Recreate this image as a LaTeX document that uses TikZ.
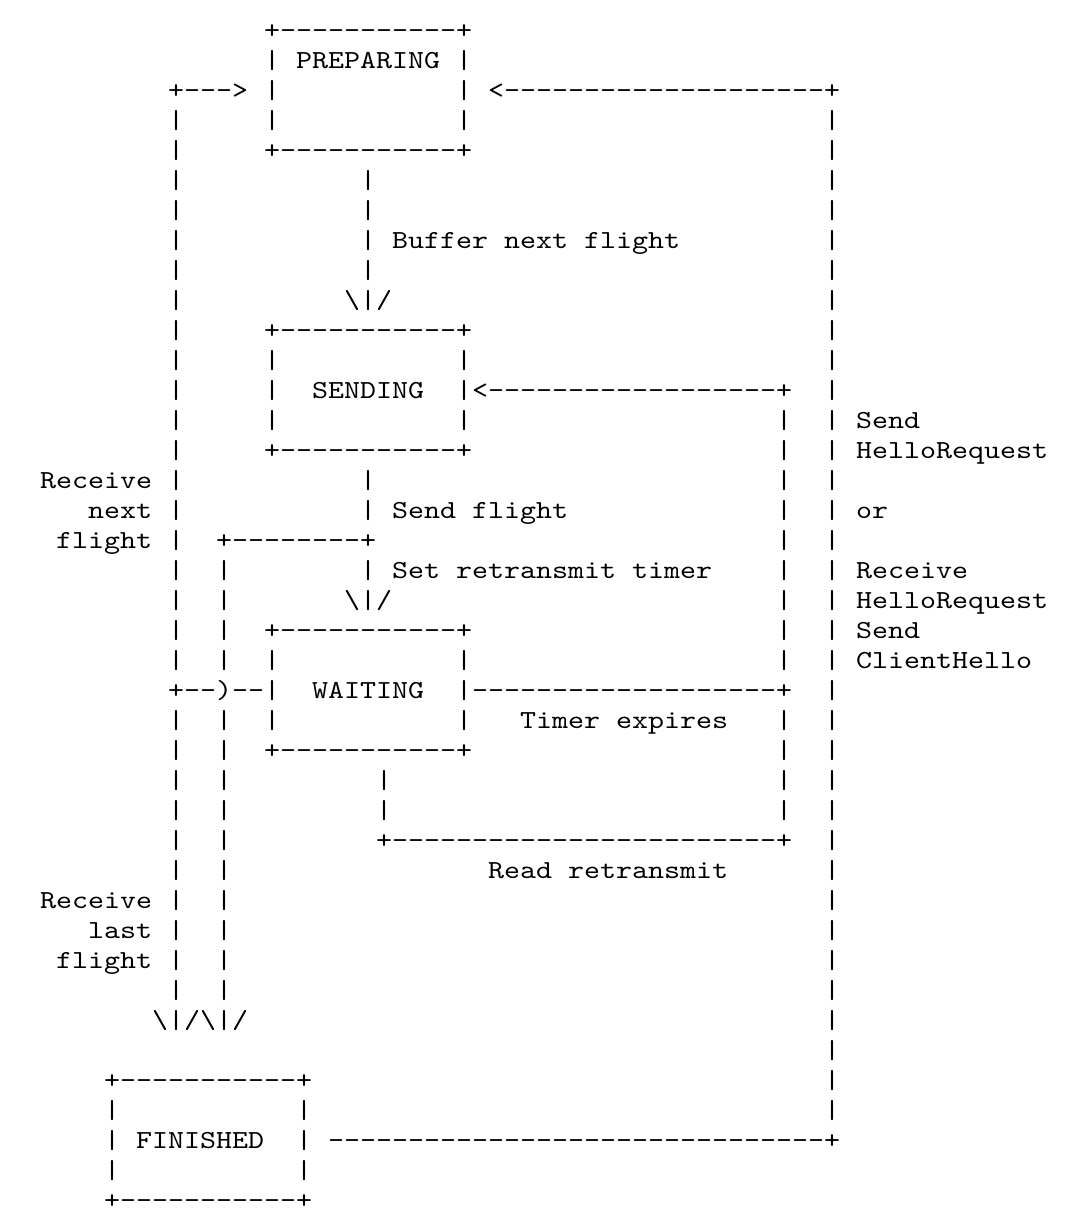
\documentclass[tikz,border=0pt]{standalone}
\usepackage{fontspec}
\setmonofont{lmmono10-regular.otf}[FakeStretch=1.1722]
\newcommand\asciifont{\ttfamily\fontsize{26}{30}\selectfont}
\newcommand\bs{\textbackslash}
\tikzset{asc/.style={inner sep=0pt, outer sep=0pt, anchor=base west, font=\asciifont, text=black}}
% \R{line}{column}{text}
\newcommand\R[3]{\node[asc] (r#1c#2) at ({-40+16*#2},{-(30*#1+8)}) {#3};}
\begin{document}
\begin{tikzpicture}[x=1pt,y=1pt]
\fill[white] (0,0) rectangle (1076,-1216);
\useasboundingbox (0,0) rectangle (1076,-1216);
% PREPARING box
\R{1}{19}{+-----------+}
\R{2}{19}{|}\R{2}{21}{PREPARING}\R{2}{31}{|}
\R{3}{13}{+--->}\R{3}{19}{|}\R{3}{31}{|}\R{3}{33}{<--------------------+}
\R{4}{13}{|}\R{4}{19}{|}\R{4}{31}{|}\R{4}{54}{|}
\R{5}{13}{|}\R{5}{19}{+-----------+}\R{5}{54}{|}
\R{6}{13}{|}\R{6}{25}{|}\R{6}{54}{|}
\R{7}{13}{|}\R{7}{25}{|}\R{7}{54}{|}
\R{8}{13}{|}\R{8}{25}{|}\R{8}{27}{Buffer}\R{8}{34}{next}\R{8}{39}{flight}\R{8}{54}{|}
\R{9}{13}{|}\R{9}{25}{|}\R{9}{54}{|}
\R{10}{13}{|}\R{10}{24}{\bs|/}\R{10}{54}{|}
% SENDING box
\R{11}{13}{|}\R{11}{19}{+-----------+}\R{11}{54}{|}
\R{12}{13}{|}\R{12}{19}{|}\R{12}{31}{|}\R{12}{54}{|}
\R{13}{13}{|}\R{13}{19}{|}\R{13}{22}{SENDING}\R{13}{31}{|<------------------+}\R{13}{54}{|}
\R{14}{13}{|}\R{14}{19}{|}\R{14}{31}{|}\R{14}{51}{|}\R{14}{54}{|}\R{14}{56}{Send}
\R{15}{13}{|}\R{15}{19}{+-----------+}\R{15}{51}{|}\R{15}{54}{|}\R{15}{56}{HelloRequest}
\R{16}{5}{Receive}\R{16}{13}{|}\R{16}{25}{|}\R{16}{51}{|}\R{16}{54}{|}
\R{17}{8}{next}\R{17}{13}{|}\R{17}{25}{|}\R{17}{27}{Send}\R{17}{32}{flight}\R{17}{51}{|}\R{17}{54}{|}\R{17}{56}{or}
\R{18}{6}{flight}\R{18}{13}{|}\R{18}{16}{+--------+}\R{18}{51}{|}\R{18}{54}{|}
\R{19}{13}{|}\R{19}{16}{|}\R{19}{25}{|}\R{19}{27}{Set}\R{19}{31}{retransmit}\R{19}{42}{timer}\R{19}{51}{|}\R{19}{54}{|}\R{19}{56}{Receive}
\R{20}{13}{|}\R{20}{16}{|}\R{20}{24}{\bs|/}\R{20}{51}{|}\R{20}{54}{|}\R{20}{56}{HelloRequest}
% WAITING box
\R{21}{13}{|}\R{21}{16}{|}\R{21}{19}{+-----------+}\R{21}{51}{|}\R{21}{54}{|}\R{21}{56}{Send}
\R{22}{13}{|}\R{22}{16}{|}\R{22}{19}{|}\R{22}{31}{|}\R{22}{51}{|}\R{22}{54}{|}\R{22}{56}{ClientHello}
\R{23}{13}{+--)--|}\R{23}{22}{WAITING}\R{23}{31}{|-------------------+}\R{23}{54}{|}
\R{24}{13}{|}\R{24}{16}{|}\R{24}{19}{|}\R{24}{31}{|}\R{24}{35}{Timer}\R{24}{41}{expires}\R{24}{51}{|}\R{24}{54}{|}
\R{25}{13}{|}\R{25}{16}{|}\R{25}{19}{+-----------+}\R{25}{51}{|}\R{25}{54}{|}
\R{26}{13}{|}\R{26}{16}{|}\R{26}{26}{|}\R{26}{51}{|}\R{26}{54}{|}
\R{27}{13}{|}\R{27}{16}{|}\R{27}{26}{|}\R{27}{51}{|}\R{27}{54}{|}
\R{28}{13}{|}\R{28}{16}{|}\R{28}{26}{+------------------------+}\R{28}{54}{|}
\R{29}{13}{|}\R{29}{16}{|}\R{29}{33}{Read}\R{29}{38}{retransmit}\R{29}{54}{|}
\R{30}{5}{Receive}\R{30}{13}{|}\R{30}{16}{|}\R{30}{54}{|}
\R{31}{8}{last}\R{31}{13}{|}\R{31}{16}{|}\R{31}{54}{|}
\R{32}{6}{flight}\R{32}{13}{|}\R{32}{16}{|}\R{32}{54}{|}
\R{33}{13}{|}\R{33}{16}{|}\R{33}{54}{|}
\R{34}{12}{\bs|/\bs|/}\R{34}{54}{|}
\R{35}{54}{|}
% FINISHED box
\R{36}{9}{+-----------+}\R{36}{54}{|}
\R{37}{9}{|}\R{37}{21}{|}\R{37}{54}{|}
\R{38}{9}{|}\R{38}{11}{FINISHED}\R{38}{21}{|}\R{38}{23}{-------------------------------+}
\R{39}{9}{|}\R{39}{21}{|}
\R{40}{9}{+-----------+}
\end{tikzpicture}
\end{document}
